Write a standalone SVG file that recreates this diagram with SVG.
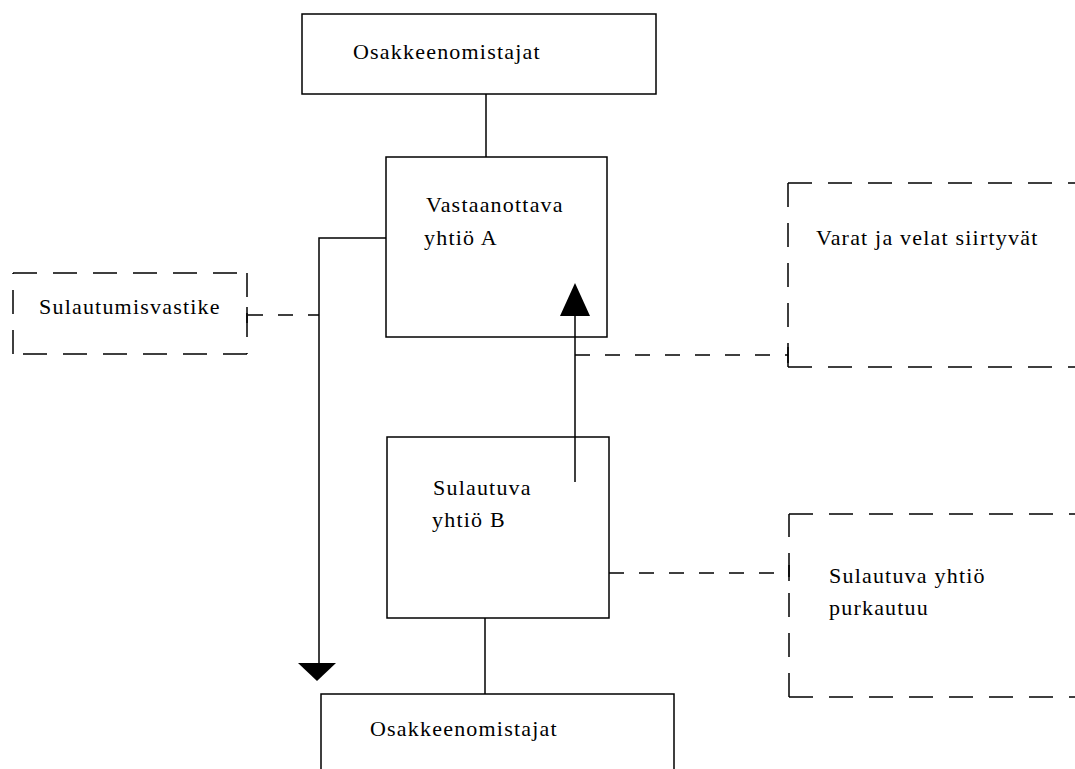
<svg xmlns="http://www.w3.org/2000/svg" width="1075" height="769" viewBox="0 0 1075 769">
<style>
.box{fill:#fff;stroke:#000;stroke-width:1.5}
.dbox{fill:none;stroke:#000;stroke-width:1.5;stroke-dasharray:24 16}
.line{fill:none;stroke:#000;stroke-width:1.5}
.dline{fill:none;stroke:#000;stroke-width:1.5;stroke-dasharray:15 15}
.head{fill:#000;stroke:none}
text{font-family:"Liberation Serif","Times New Roman",serif;font-size:22px;letter-spacing:1.2px;fill:#000}
</style>
<rect width="1075" height="769" fill="#fff"/>
<g id="connectors">
<line class="line" x1="486" y1="94" x2="486" y2="157"/>
<polyline class="line" points="386,238 319,238 319,664"/>
<polygon class="head" points="298,663 336,663 317,681"/>
<line class="line" x1="575" y1="482" x2="575" y2="314"/>
<line class="line" x1="485" y1="618" x2="485" y2="694"/>
<line class="dline" x1="248" y1="315" x2="319" y2="315"/>
<line class="dline" x1="575" y1="355" x2="788" y2="355"/>
<line class="dline" x1="609" y1="573" x2="789" y2="573"/>
</g>
<g id="osakkeenomistajat-top">
<rect class="box" x="302" y="14" width="354" height="80"/>
<text x="353" y="59">Osakkeenomistajat</text>
</g>
<g id="vastaanottava">
<rect class="box" x="386" y="157" width="221" height="180"/>
<text x="426" y="212">Vastaanottava</text>
<text x="424" y="245">yhtiö A</text>
</g>
<g id="arrow-up">
<line class="line" x1="575" y1="337" x2="575" y2="314"/>
<polygon class="head" points="560,316 590,316 575,283"/>
</g>
<g id="sulautumisvastike">
<path class="dbox" d="M13,273 H247"/>
<path class="dbox" d="M247,273 V354"/>
<path class="dbox" d="M247,354 H13"/>
<path class="dbox" d="M13,354 V273"/>
<line class="line" x1="247" y1="307" x2="247" y2="323"/>
<text x="39" y="314">Sulautumisvastike</text>
</g>
<g id="varat">
<path class="dbox" d="M788,183 H1090"/>
<path class="dbox" d="M788,367 V183"/>
<path class="dbox" d="M788,367 H1090"/>
<line class="line" x1="788" y1="347" x2="788" y2="363"/>
<text x="816" y="245">Varat ja velat siirtyvät</text>
</g>
<g id="sulautuva">
<rect class="box" x="387" y="437" width="222" height="181"/>
<text x="433" y="495">Sulautuva</text>
<text x="432" y="527">yhtiö B</text>
<line class="line" x1="575" y1="437" x2="575" y2="482"/>
</g>
<g id="purkautuu">
<path class="dbox" d="M789,514 H1090"/>
<path class="dbox" d="M789,697 V514"/>
<path class="dbox" d="M789,697 H1090"/>
<line class="line" x1="789" y1="565" x2="789" y2="581"/>
<text x="829" y="583">Sulautuva yhtiö</text>
<text x="829" y="615">purkautuu</text>
</g>
<g id="osakkeenomistajat-bottom">
<path class="box" d="M321,769 V694 H674 V769"/>
<text x="370" y="736">Osakkeenomistajat</text>
</g>
</svg>
